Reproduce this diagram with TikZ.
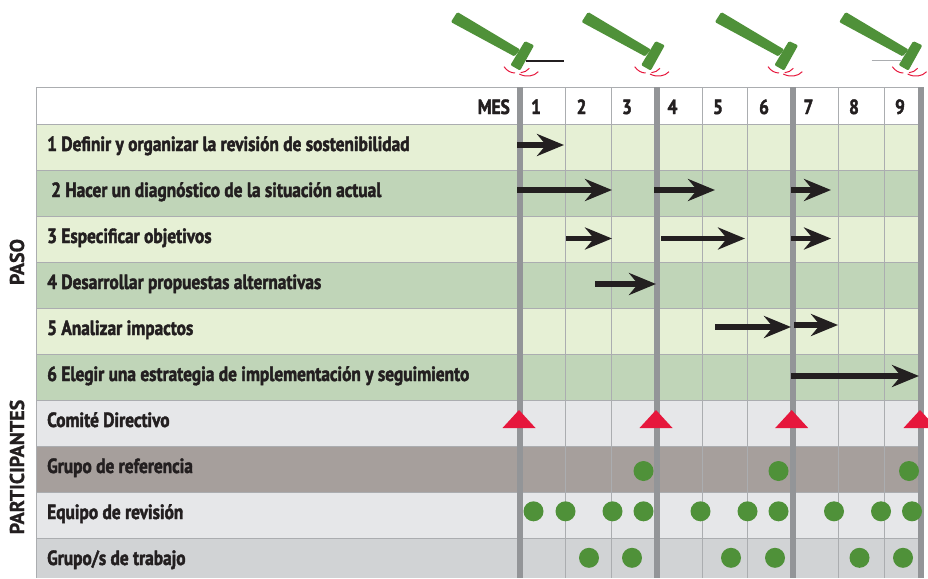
\documentclass[tikz,border=0pt]{standalone}
\usepackage{fontspec}
\setmainfont{PT Sans}[BoldFeatures={FakeStretch=0.845,FakeBold=2}]
\newfontfamily\sidefont{PT Sans Bold}[FakeBold=1]
\usetikzlibrary{arrows.meta}
\definecolor{lgreen}{HTML}{E6F0D5}
\definecolor{dgreen}{HTML}{C0D5B8}
\definecolor{lgrey}{HTML}{E6E7E9}
\definecolor{taupe}{HTML}{A69F9C}
\definecolor{mgrey}{HTML}{D1D3D5}
\definecolor{barc}{HTML}{939598}
\definecolor{thinc}{HTML}{ABADB0}
\definecolor{hamg}{HTML}{4F9139}
\definecolor{redc}{HTML}{E6173C}
\definecolor{inkc}{HTML}{231F20}
\tikzset{
  x=1pt,y=-1pt,
  gridline/.style={thinc,line width=1pt},
  thickbar/.style={barc,line width=6pt},
  lab/.style={anchor=base west,inner sep=0pt,font=\fontsize{20.5}{22}\selectfont\bfseries,text=inkc},
  num/.style={anchor=base,inner sep=0pt,font=\fontsize{20.5}{22}\selectfont\bfseries,text=inkc},
  side/.style={rotate=90,inner sep=0pt,font=\fontsize{20}{22}\sidefont,text=inkc},
  flow/.style={inkc,line width=5.4pt,-{Stealth[length=27pt,width=22pt,inset=9pt]}},
  dot/.style={circle,fill=hamg,minimum size=20pt,inner sep=0pt,draw=none},
  tri/.style={fill=redc,draw=none},
  hammer/.style={fill=hamg,draw=hamg,line width=3pt,line join=round},
  ring/.style={redc,line width=1pt},
}
\begin{document}
\begin{tikzpicture}
\useasboundingbox (0,0) rectangle (928,578);
\foreach \a/\b/\c in {124/170/lgreen,170/216/dgreen,216/262/lgreen,262/308/dgreen,308/354/lgreen,354/400.5/dgreen,400.5/446/lgrey,446/492.5/taupe,492.5/538/lgrey,538/578/mgrey}
  \fill[\c] (36.5,\a) rectangle (919,\b);
\foreach \x in {565.5,611,702,747.5,838.5,884.5}
  \draw[gridline] (\x,87) -- (\x,578);
\foreach \y in {87,124,170,216,262,308,354,400.5,446,492.5,538}
  \draw[gridline] (36,\y) -- (924,\y);
\draw[gridline] (36.5,87) -- (36.5,578);
\foreach \x in {520,657,793,921}
  \draw[thickbar] (\x,87) -- (\x,578);
\foreach \dx/\n in {0/a,130.7/b,264/c,388.3/d}{
\begin{scope}[xshift=\dx pt]
  \filldraw[hammer] (457.8,14) -- (453,21.5) -- (514,54.5) -- (518,50) -- cycle;
  \filldraw[hammer] (525.5,43) -- (532,46) -- (519.5,68.5) -- (512.5,64.5) -- cycle;
  \draw[ring] (504,66.7) .. controls (507,71) and (511,73) .. (515,73);
  \draw[ring] (520.7,72.7) .. controls (524,72.5) and (527,71) .. (529.3,68.3);
  \draw[ring] (519.3,74) .. controls (526,77.5) and (534,76.5) .. (538.3,71.7);
\end{scope}}
\coordinate (ha) at (525.7,61); \coordinate (hb) at (564.3,61);
\draw[inkc,line width=1.2pt] (ha) -- (hb);
\coordinate (hc) at (871.7,60.3); \coordinate (hd) at (901.7,60.3);
\draw[thinc,line width=1.2pt] (hc) -- (hd);
\node[lab,anchor=base east] (mes) at (510,114) {MES};
\foreach \i/\x in {1/536,2/581.5,3/627,4/672.5,5/718,6/764,7/808.5,8/854,9/900}
  \node[num] (m\i) at (\x,114) {\i};
\node[lab] (s1) at (47,151) {1 Definir y organizar la revisión de sostenibilidad};
\node[lab] (s2) at (51,197) {2 Hacer un diagnóstico de la situación actual};
\node[lab] (s3) at (47,243) {3 Especificar objetivos};
\node[lab] (s4) at (47,289) {4 Desarrollar propuestas alternativas};
\node[lab] (s5) at (47,335) {5 Analizar impactos};
\node[lab] (s6) at (47,381) {6 Elegir una estrategia de implementación y seguimiento};
\node[lab] (p1) at (47,427) {Comité Directivo};
\node[lab] (p2) at (47,473) {Grupo de referencia};
\node[lab] (p3) at (47,519) {Equipo de revisión};
\node[lab] (p4) at (47,565) {Grupo/s de trabajo};
\node[side] (paso) at (17,262) {PASO};
\node[side] (part) at (17,467) {PARTICIPANTES};
\foreach \n/\a/\b/\y in {1/517/564/145,2/517/612/190,3/654/715/190,4/791/831/190,5/566/612/238.5,6/661/745/238.5,7/791/831/238.5,8/595/656/284,9/715/791/327,10/794/838/325,11/791/919/376}{
  \coordinate (f\n) at (\a,\y);
  \coordinate (t\n) at (\b,\y);
  \draw[flow] (f\n) -- (t\n);
}
\foreach \x/\n in {519/a,656/b,791.7/c,920/d}
  \fill[tri] (\x,410) -- (\x+16.5,428) -- (\x-16.5,428) -- cycle;
\foreach \x in {643.5,778.5,909} \node[dot] at (\x,471) {};
\foreach \x in {533.5,565.5,612.5,643.5,700.5,747.5,778.5,834,881,912} \node[dot] at (\x,511.3) {};
\foreach \x in {589,632,731,775,859.5,903} \node[dot] at (\x,557.8) {};
\end{tikzpicture}
\end{document}
